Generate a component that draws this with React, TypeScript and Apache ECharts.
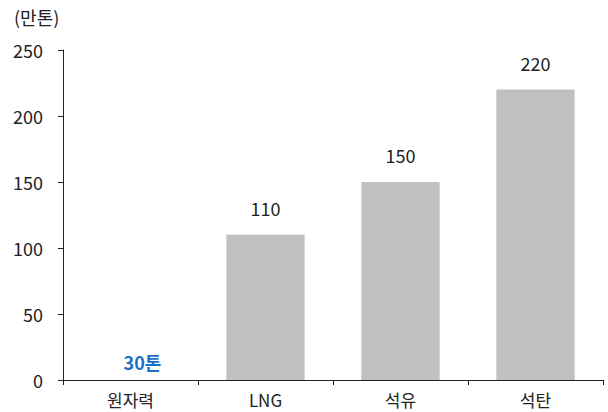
import React, { useEffect, useRef } from "react";
import * as echarts from "echarts";

const categories = ["원자력", "LNG", "석유", "석탄"];
const values = [0.003, 110, 150, 220];
const valueLabels = ["30톤", "110", "150", "220"];
const yTicks = { min: 0, max: 250, interval: 50 };
const unitLabel = "(만톤)";

const FONT = "'Noto Sans CJK KR', 'Noto Sans', sans-serif";

export default function App() {
  const ref = useRef<HTMLDivElement>(null);
  useEffect(() => {
    const chart = echarts.init(ref.current!, undefined, { renderer: "svg" });
    chart.setOption({
      animation: false,
      textStyle: { fontFamily: FONT },
      title: {
        text: unitLabel,
        left: 9,
        top: 3,
        textStyle: { fontFamily: FONT, fontSize: 18, fontWeight: "normal", color: "#222" },
      },
      grid: { left: 63, right: 5, top: 50, bottom: 32 },
      xAxis: {
        type: "category",
        data: categories,
        axisLine: { lineStyle: { color: "#222", width: 1 } },
        axisTick: { show: true, length: 5, lineStyle: { color: "#222" } },
        axisLabel: {
          color: "#222",
          fontSize: 17,
          lineHeight: 17,
          margin: 11,
          fontFamily: FONT,
        },
      },
      yAxis: {
        type: "value",
        min: yTicks.min,
        max: yTicks.max,
        interval: yTicks.interval,
        splitLine: { show: false },
        axisLine: { show: true, lineStyle: { color: "#222", width: 1 } },
        axisTick: { show: true, length: 5, lineStyle: { color: "#222" } },
        axisLabel: { color: "#222", fontSize: 18, margin: 20, fontFamily: FONT },
      },
      series: [
        {
          type: "bar",
          barWidth: "58%",
          itemStyle: { color: "#c0c0c0" },
          data: values.map((v, i) =>
            i === 0
              ? {
                  value: v,
                  label: {
                    show: true,
                    position: "top",
                    distance: 9,
                    offset: [12, 0],
                    formatter: valueLabels[i],
                    color: "#1a6fc8",
                    fontWeight: "bold",
                    fontSize: 18,
                    fontFamily: FONT,
                  },
                }
              : {
                  value: v,
                  label: {
                    show: true,
                    position: "top",
                    distance: 18,
                    formatter: valueLabels[i],
                    color: "#222",
                    fontSize: 18,
                    fontFamily: FONT,
                  },
                }
          ),
        },
      ],
    });
    return () => chart.dispose();
  }, []);
  return (
    <div
      ref={ref}
      style={{ position: "absolute", left: 0, top: 0, width: 608, height: 412 }}
    />
  );
}
